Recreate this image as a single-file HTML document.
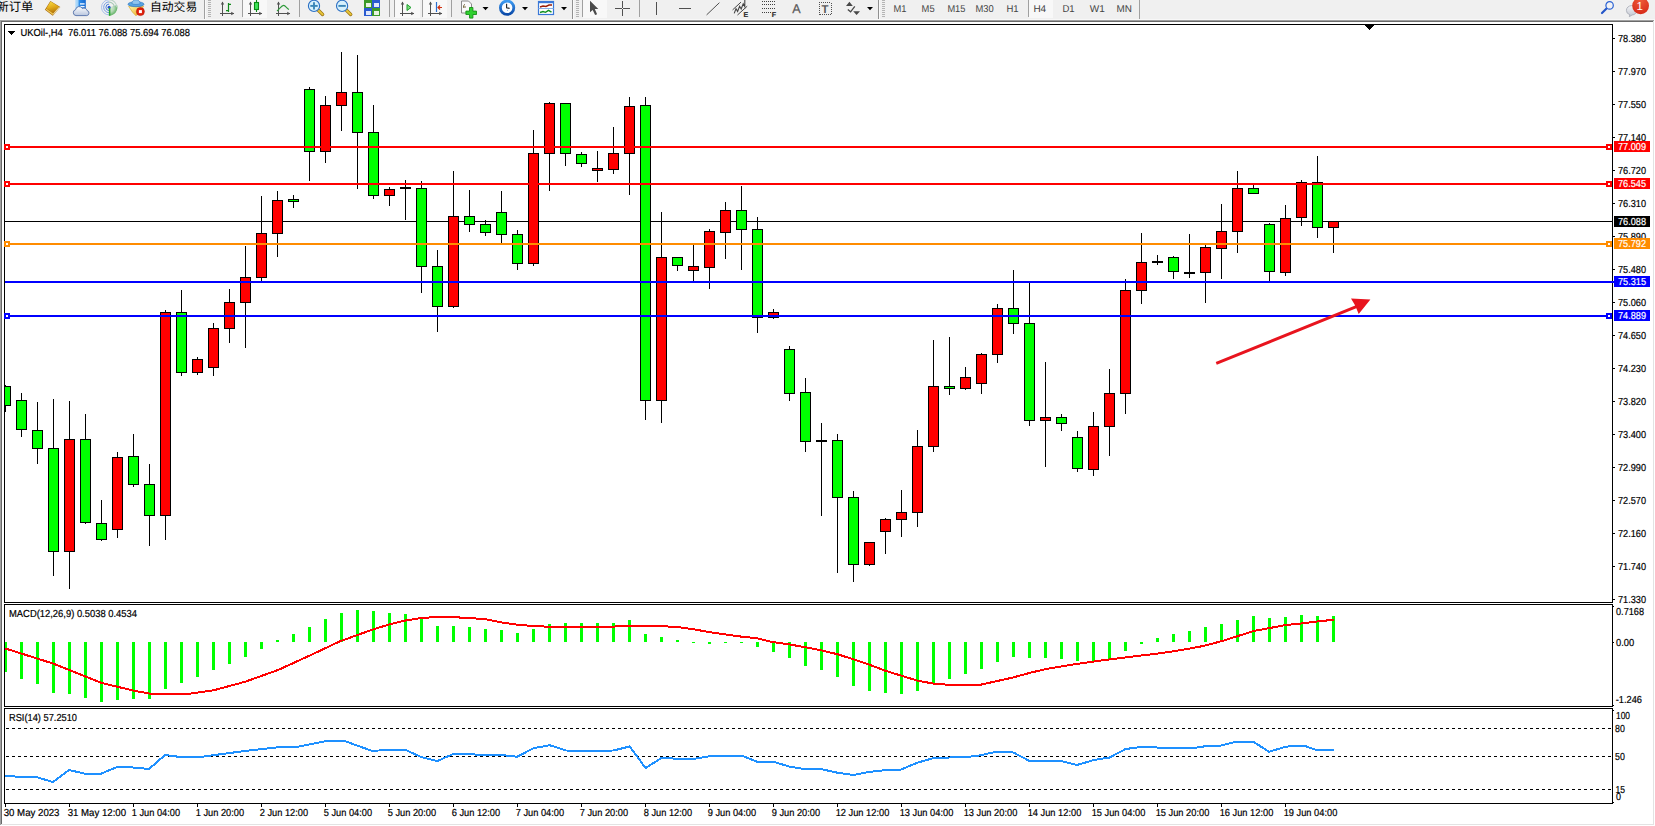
<!DOCTYPE html>
<html><head><meta charset="utf-8"><title>UKOil H4</title>
<style>html,body{margin:0;padding:0;background:#f0f0f0;overflow:hidden}svg text{white-space:pre;text-rendering:geometricPrecision}</style></head>
<body>
<svg width="1655" height="826" viewBox="0 0 1655 826" font-family='"Liberation Sans", sans-serif' style="display:block">
<rect x="0" y="0" width="1655" height="826" fill="#f0f0f0"/>
<g shape-rendering="crispEdges">
<rect x="0" y="19" width="1655" height="1" fill="#f8f8f8"/>
<rect x="0" y="20" width="1654" height="806" fill="#a0a0a0"/>
<rect x="1" y="21" width="1653" height="805" fill="#696969"/>
<rect x="2" y="22" width="1653" height="804" fill="#ffffff"/>
<rect x="1653" y="21" width="1" height="804" fill="#e3e3e3"/>
<rect x="1654" y="20" width="1" height="806" fill="#ffffff"/>
<rect x="1" y="824" width="1653" height="1" fill="#e3e3e3"/>
<rect x="0" y="825" width="1655" height="1" fill="#ffffff"/>
<rect x="0" y="20" width="1" height="805" fill="#a0a0a0"/>
<rect x="1" y="21" width="1" height="803" fill="#696969"/>
<rect x="4" y="24" width="1609" height="1" fill="#000"/>
<rect x="4" y="24" width="1" height="579" fill="#000"/>
<rect x="4" y="604" width="1" height="103" fill="#000"/>
<rect x="4" y="708" width="1" height="96" fill="#000"/>
<rect x="1612" y="24" width="1" height="579" fill="#000"/>
<rect x="1612" y="604" width="1" height="103" fill="#000"/>
<rect x="1612" y="708" width="1" height="96" fill="#000"/>
<rect x="4" y="602" width="1609" height="1" fill="#000"/>
<rect x="4" y="604" width="1609" height="1" fill="#000"/>
<rect x="4" y="706" width="1609" height="1" fill="#000"/>
<rect x="4" y="708" width="1609" height="1" fill="#000"/>
<rect x="4" y="803" width="1609" height="1" fill="#000"/>
</g>
<g shape-rendering="crispEdges">
<rect x="5" y="221" width="1607" height="1" fill="#000"/>
</g>
<g shape-rendering="crispEdges">
<rect x="5" y="385" width="1" height="27" fill="#000"/>
<rect x="5" y="386" width="6" height="20" fill="#000"/>
<rect x="5" y="387" width="5" height="18" fill="#00ff00"/>
<rect x="21" y="393" width="1" height="44" fill="#000"/>
<rect x="16" y="400" width="11" height="30" fill="#000"/>
<rect x="17" y="401" width="9" height="28" fill="#00ff00"/>
<rect x="37" y="402" width="1" height="62" fill="#000"/>
<rect x="32" y="430" width="11" height="19" fill="#000"/>
<rect x="33" y="431" width="9" height="17" fill="#00ff00"/>
<rect x="53" y="399" width="1" height="177" fill="#000"/>
<rect x="48" y="448" width="11" height="104" fill="#000"/>
<rect x="49" y="449" width="9" height="102" fill="#00ff00"/>
<rect x="69" y="401" width="1" height="188" fill="#000"/>
<rect x="64" y="439" width="11" height="113" fill="#000"/>
<rect x="65" y="440" width="9" height="111" fill="#ff0000"/>
<rect x="85" y="414" width="1" height="110" fill="#000"/>
<rect x="80" y="439" width="11" height="84" fill="#000"/>
<rect x="81" y="440" width="9" height="82" fill="#00ff00"/>
<rect x="101" y="500" width="1" height="41" fill="#000"/>
<rect x="96" y="523" width="11" height="17" fill="#000"/>
<rect x="97" y="524" width="9" height="15" fill="#00ff00"/>
<rect x="117" y="452" width="1" height="86" fill="#000"/>
<rect x="112" y="457" width="11" height="73" fill="#000"/>
<rect x="113" y="458" width="9" height="71" fill="#ff0000"/>
<rect x="133" y="434" width="1" height="53" fill="#000"/>
<rect x="128" y="456" width="11" height="29" fill="#000"/>
<rect x="129" y="457" width="9" height="27" fill="#00ff00"/>
<rect x="149" y="464" width="1" height="82" fill="#000"/>
<rect x="144" y="484" width="11" height="32" fill="#000"/>
<rect x="145" y="485" width="9" height="30" fill="#00ff00"/>
<rect x="165" y="310" width="1" height="230" fill="#000"/>
<rect x="160" y="312" width="11" height="204" fill="#000"/>
<rect x="161" y="313" width="9" height="202" fill="#ff0000"/>
<rect x="181" y="290" width="1" height="86" fill="#000"/>
<rect x="176" y="312" width="11" height="61" fill="#000"/>
<rect x="177" y="313" width="9" height="59" fill="#00ff00"/>
<rect x="197" y="357" width="1" height="18" fill="#000"/>
<rect x="192" y="359" width="11" height="14" fill="#000"/>
<rect x="193" y="360" width="9" height="12" fill="#ff0000"/>
<rect x="213" y="323" width="1" height="53" fill="#000"/>
<rect x="208" y="328" width="11" height="40" fill="#000"/>
<rect x="209" y="329" width="9" height="38" fill="#ff0000"/>
<rect x="229" y="289" width="1" height="54" fill="#000"/>
<rect x="224" y="302" width="11" height="27" fill="#000"/>
<rect x="225" y="303" width="9" height="25" fill="#ff0000"/>
<rect x="245" y="246" width="1" height="102" fill="#000"/>
<rect x="240" y="277" width="11" height="26" fill="#000"/>
<rect x="241" y="278" width="9" height="24" fill="#ff0000"/>
<rect x="261" y="196" width="1" height="86" fill="#000"/>
<rect x="256" y="233" width="11" height="45" fill="#000"/>
<rect x="257" y="234" width="9" height="43" fill="#ff0000"/>
<rect x="277" y="191" width="1" height="66" fill="#000"/>
<rect x="272" y="200" width="11" height="34" fill="#000"/>
<rect x="273" y="201" width="9" height="32" fill="#ff0000"/>
<rect x="293" y="195" width="1" height="13" fill="#000"/>
<rect x="288" y="199" width="11" height="3" fill="#000"/>
<rect x="289" y="200" width="9" height="1" fill="#00ff00"/>
<rect x="309" y="87" width="1" height="94" fill="#000"/>
<rect x="304" y="89" width="11" height="63" fill="#000"/>
<rect x="305" y="90" width="9" height="61" fill="#00ff00"/>
<rect x="325" y="96" width="1" height="67" fill="#000"/>
<rect x="320" y="105" width="11" height="47" fill="#000"/>
<rect x="321" y="106" width="9" height="45" fill="#ff0000"/>
<rect x="341" y="52" width="1" height="79" fill="#000"/>
<rect x="336" y="92" width="11" height="14" fill="#000"/>
<rect x="337" y="93" width="9" height="12" fill="#ff0000"/>
<rect x="357" y="55" width="1" height="134" fill="#000"/>
<rect x="352" y="92" width="11" height="41" fill="#000"/>
<rect x="353" y="93" width="9" height="39" fill="#00ff00"/>
<rect x="373" y="105" width="1" height="94" fill="#000"/>
<rect x="368" y="132" width="11" height="64" fill="#000"/>
<rect x="369" y="133" width="9" height="62" fill="#00ff00"/>
<rect x="389" y="187" width="1" height="19" fill="#000"/>
<rect x="384" y="189" width="11" height="7" fill="#000"/>
<rect x="385" y="190" width="9" height="5" fill="#ff0000"/>
<rect x="405" y="180" width="1" height="40" fill="#000"/>
<rect x="400" y="187" width="11" height="2" fill="#000"/>
<rect x="421" y="181" width="1" height="112" fill="#000"/>
<rect x="416" y="188" width="11" height="79" fill="#000"/>
<rect x="417" y="189" width="9" height="77" fill="#00ff00"/>
<rect x="437" y="250" width="1" height="82" fill="#000"/>
<rect x="432" y="266" width="11" height="41" fill="#000"/>
<rect x="433" y="267" width="9" height="39" fill="#00ff00"/>
<rect x="453" y="171" width="1" height="137" fill="#000"/>
<rect x="448" y="216" width="11" height="91" fill="#000"/>
<rect x="449" y="217" width="9" height="89" fill="#ff0000"/>
<rect x="469" y="190" width="1" height="42" fill="#000"/>
<rect x="464" y="216" width="11" height="9" fill="#000"/>
<rect x="465" y="217" width="9" height="7" fill="#00ff00"/>
<rect x="485" y="220" width="1" height="16" fill="#000"/>
<rect x="480" y="224" width="11" height="9" fill="#000"/>
<rect x="481" y="225" width="9" height="7" fill="#00ff00"/>
<rect x="501" y="191" width="1" height="52" fill="#000"/>
<rect x="496" y="212" width="11" height="23" fill="#000"/>
<rect x="497" y="213" width="9" height="21" fill="#00ff00"/>
<rect x="517" y="230" width="1" height="40" fill="#000"/>
<rect x="512" y="234" width="11" height="30" fill="#000"/>
<rect x="513" y="235" width="9" height="28" fill="#00ff00"/>
<rect x="533" y="130" width="1" height="136" fill="#000"/>
<rect x="528" y="153" width="11" height="111" fill="#000"/>
<rect x="529" y="154" width="9" height="109" fill="#ff0000"/>
<rect x="549" y="102" width="1" height="89" fill="#000"/>
<rect x="544" y="103" width="11" height="51" fill="#000"/>
<rect x="545" y="104" width="9" height="49" fill="#ff0000"/>
<rect x="565" y="103" width="1" height="63" fill="#000"/>
<rect x="560" y="103" width="11" height="51" fill="#000"/>
<rect x="561" y="104" width="9" height="49" fill="#00ff00"/>
<rect x="581" y="152" width="1" height="15" fill="#000"/>
<rect x="576" y="154" width="11" height="10" fill="#000"/>
<rect x="577" y="155" width="9" height="8" fill="#00ff00"/>
<rect x="597" y="151" width="1" height="31" fill="#000"/>
<rect x="592" y="168" width="11" height="3" fill="#000"/>
<rect x="593" y="169" width="9" height="1" fill="#ff0000"/>
<rect x="613" y="127" width="1" height="47" fill="#000"/>
<rect x="608" y="153" width="11" height="17" fill="#000"/>
<rect x="609" y="154" width="9" height="15" fill="#ff0000"/>
<rect x="629" y="97" width="1" height="98" fill="#000"/>
<rect x="624" y="106" width="11" height="48" fill="#000"/>
<rect x="625" y="107" width="9" height="46" fill="#ff0000"/>
<rect x="645" y="97" width="1" height="323" fill="#000"/>
<rect x="640" y="105" width="11" height="296" fill="#000"/>
<rect x="641" y="106" width="9" height="294" fill="#00ff00"/>
<rect x="661" y="212" width="1" height="211" fill="#000"/>
<rect x="656" y="257" width="11" height="144" fill="#000"/>
<rect x="657" y="258" width="9" height="142" fill="#ff0000"/>
<rect x="677" y="257" width="1" height="14" fill="#000"/>
<rect x="672" y="257" width="11" height="9" fill="#000"/>
<rect x="673" y="258" width="9" height="7" fill="#00ff00"/>
<rect x="693" y="245" width="1" height="36" fill="#000"/>
<rect x="688" y="266" width="11" height="5" fill="#000"/>
<rect x="689" y="267" width="9" height="3" fill="#ff0000"/>
<rect x="709" y="229" width="1" height="60" fill="#000"/>
<rect x="704" y="231" width="11" height="37" fill="#000"/>
<rect x="705" y="232" width="9" height="35" fill="#ff0000"/>
<rect x="725" y="202" width="1" height="57" fill="#000"/>
<rect x="720" y="210" width="11" height="23" fill="#000"/>
<rect x="721" y="211" width="9" height="21" fill="#ff0000"/>
<rect x="741" y="186" width="1" height="84" fill="#000"/>
<rect x="736" y="210" width="11" height="20" fill="#000"/>
<rect x="737" y="211" width="9" height="18" fill="#00ff00"/>
<rect x="757" y="217" width="1" height="116" fill="#000"/>
<rect x="752" y="229" width="11" height="89" fill="#000"/>
<rect x="753" y="230" width="9" height="87" fill="#00ff00"/>
<rect x="773" y="309" width="1" height="10" fill="#000"/>
<rect x="768" y="312" width="11" height="6" fill="#000"/>
<rect x="769" y="313" width="9" height="4" fill="#ff0000"/>
<rect x="789" y="346" width="1" height="55" fill="#000"/>
<rect x="784" y="349" width="11" height="45" fill="#000"/>
<rect x="785" y="350" width="9" height="43" fill="#00ff00"/>
<rect x="805" y="378" width="1" height="74" fill="#000"/>
<rect x="800" y="392" width="11" height="50" fill="#000"/>
<rect x="801" y="393" width="9" height="48" fill="#00ff00"/>
<rect x="821" y="423" width="1" height="93" fill="#000"/>
<rect x="816" y="440" width="11" height="2" fill="#000"/>
<rect x="837" y="434" width="1" height="139" fill="#000"/>
<rect x="832" y="440" width="11" height="58" fill="#000"/>
<rect x="833" y="441" width="9" height="56" fill="#00ff00"/>
<rect x="853" y="491" width="1" height="91" fill="#000"/>
<rect x="848" y="497" width="11" height="68" fill="#000"/>
<rect x="849" y="498" width="9" height="66" fill="#00ff00"/>
<rect x="869" y="542" width="1" height="24" fill="#000"/>
<rect x="864" y="542" width="11" height="23" fill="#000"/>
<rect x="865" y="543" width="9" height="21" fill="#ff0000"/>
<rect x="885" y="518" width="1" height="36" fill="#000"/>
<rect x="880" y="519" width="11" height="13" fill="#000"/>
<rect x="881" y="520" width="9" height="11" fill="#ff0000"/>
<rect x="901" y="490" width="1" height="47" fill="#000"/>
<rect x="896" y="512" width="11" height="8" fill="#000"/>
<rect x="897" y="513" width="9" height="6" fill="#ff0000"/>
<rect x="917" y="430" width="1" height="97" fill="#000"/>
<rect x="912" y="446" width="11" height="67" fill="#000"/>
<rect x="913" y="447" width="9" height="65" fill="#ff0000"/>
<rect x="933" y="340" width="1" height="112" fill="#000"/>
<rect x="928" y="386" width="11" height="61" fill="#000"/>
<rect x="929" y="387" width="9" height="59" fill="#ff0000"/>
<rect x="949" y="337" width="1" height="58" fill="#000"/>
<rect x="944" y="386" width="11" height="3" fill="#000"/>
<rect x="945" y="387" width="9" height="1" fill="#00ff00"/>
<rect x="965" y="367" width="1" height="23" fill="#000"/>
<rect x="960" y="377" width="11" height="12" fill="#000"/>
<rect x="961" y="378" width="9" height="10" fill="#ff0000"/>
<rect x="981" y="353" width="1" height="41" fill="#000"/>
<rect x="976" y="354" width="11" height="30" fill="#000"/>
<rect x="977" y="355" width="9" height="28" fill="#ff0000"/>
<rect x="997" y="304" width="1" height="59" fill="#000"/>
<rect x="992" y="308" width="11" height="47" fill="#000"/>
<rect x="993" y="309" width="9" height="45" fill="#ff0000"/>
<rect x="1013" y="270" width="1" height="64" fill="#000"/>
<rect x="1008" y="308" width="11" height="16" fill="#000"/>
<rect x="1009" y="309" width="9" height="14" fill="#00ff00"/>
<rect x="1029" y="283" width="1" height="143" fill="#000"/>
<rect x="1024" y="323" width="11" height="98" fill="#000"/>
<rect x="1025" y="324" width="9" height="96" fill="#00ff00"/>
<rect x="1045" y="362" width="1" height="105" fill="#000"/>
<rect x="1040" y="417" width="11" height="4" fill="#000"/>
<rect x="1041" y="418" width="9" height="2" fill="#ff0000"/>
<rect x="1061" y="414" width="1" height="17" fill="#000"/>
<rect x="1056" y="417" width="11" height="7" fill="#000"/>
<rect x="1057" y="418" width="9" height="5" fill="#00ff00"/>
<rect x="1077" y="431" width="1" height="41" fill="#000"/>
<rect x="1072" y="437" width="11" height="32" fill="#000"/>
<rect x="1073" y="438" width="9" height="30" fill="#00ff00"/>
<rect x="1093" y="412" width="1" height="64" fill="#000"/>
<rect x="1088" y="426" width="11" height="44" fill="#000"/>
<rect x="1089" y="427" width="9" height="42" fill="#ff0000"/>
<rect x="1109" y="369" width="1" height="87" fill="#000"/>
<rect x="1104" y="393" width="11" height="34" fill="#000"/>
<rect x="1105" y="394" width="9" height="32" fill="#ff0000"/>
<rect x="1125" y="279" width="1" height="135" fill="#000"/>
<rect x="1120" y="290" width="11" height="104" fill="#000"/>
<rect x="1121" y="291" width="9" height="102" fill="#ff0000"/>
<rect x="1141" y="233" width="1" height="71" fill="#000"/>
<rect x="1136" y="262" width="11" height="29" fill="#000"/>
<rect x="1137" y="263" width="9" height="27" fill="#ff0000"/>
<rect x="1157" y="255" width="1" height="10" fill="#000"/>
<rect x="1152" y="261" width="11" height="2" fill="#000"/>
<rect x="1173" y="256" width="1" height="23" fill="#000"/>
<rect x="1168" y="257" width="11" height="15" fill="#000"/>
<rect x="1169" y="258" width="9" height="13" fill="#00ff00"/>
<rect x="1189" y="234" width="1" height="44" fill="#000"/>
<rect x="1184" y="272" width="11" height="2" fill="#000"/>
<rect x="1205" y="245" width="1" height="58" fill="#000"/>
<rect x="1200" y="247" width="11" height="26" fill="#000"/>
<rect x="1201" y="248" width="9" height="24" fill="#ff0000"/>
<rect x="1221" y="204" width="1" height="75" fill="#000"/>
<rect x="1216" y="231" width="11" height="18" fill="#000"/>
<rect x="1217" y="232" width="9" height="16" fill="#ff0000"/>
<rect x="1237" y="171" width="1" height="82" fill="#000"/>
<rect x="1232" y="188" width="11" height="44" fill="#000"/>
<rect x="1233" y="189" width="9" height="42" fill="#ff0000"/>
<rect x="1253" y="185" width="1" height="9" fill="#000"/>
<rect x="1248" y="188" width="11" height="6" fill="#000"/>
<rect x="1249" y="189" width="9" height="4" fill="#00ff00"/>
<rect x="1269" y="223" width="1" height="59" fill="#000"/>
<rect x="1264" y="224" width="11" height="48" fill="#000"/>
<rect x="1265" y="225" width="9" height="46" fill="#00ff00"/>
<rect x="1285" y="205" width="1" height="71" fill="#000"/>
<rect x="1280" y="218" width="11" height="55" fill="#000"/>
<rect x="1281" y="219" width="9" height="53" fill="#ff0000"/>
<rect x="1301" y="180" width="1" height="46" fill="#000"/>
<rect x="1296" y="182" width="11" height="36" fill="#000"/>
<rect x="1297" y="183" width="9" height="34" fill="#ff0000"/>
<rect x="1317" y="156" width="1" height="82" fill="#000"/>
<rect x="1312" y="182" width="11" height="46" fill="#000"/>
<rect x="1313" y="183" width="9" height="44" fill="#00ff00"/>
<rect x="1333" y="221" width="1" height="32" fill="#000"/>
<rect x="1328" y="221" width="11" height="7" fill="#000"/>
<rect x="1329" y="222" width="9" height="5" fill="#ff0000"/>
<rect x="5" y="146" width="1607" height="2" fill="#ff0000"/>
<rect x="4" y="144" width="6" height="6" fill="#ff0000"/>
<rect x="6" y="146" width="2" height="2" fill="#fff"/>
<rect x="1606" y="144" width="6" height="6" fill="#ff0000"/>
<rect x="1608" y="146" width="2" height="2" fill="#fff"/>
<rect x="5" y="183" width="1607" height="2" fill="#ff0000"/>
<rect x="4" y="181" width="6" height="6" fill="#ff0000"/>
<rect x="6" y="183" width="2" height="2" fill="#fff"/>
<rect x="1606" y="181" width="6" height="6" fill="#ff0000"/>
<rect x="1608" y="183" width="2" height="2" fill="#fff"/>
<rect x="5" y="243" width="1607" height="2" fill="#ff8c00"/>
<rect x="4" y="241" width="6" height="6" fill="#ff8c00"/>
<rect x="6" y="243" width="2" height="2" fill="#fff"/>
<rect x="1606" y="241" width="6" height="6" fill="#ff8c00"/>
<rect x="1608" y="243" width="2" height="2" fill="#fff"/>
<rect x="5" y="281" width="1609" height="2" fill="#0000ff"/>
<rect x="5" y="315" width="1607" height="2" fill="#0000ff"/>
<rect x="4" y="313" width="6" height="6" fill="#0000ff"/>
<rect x="6" y="315" width="2" height="2" fill="#fff"/>
<rect x="1606" y="313" width="6" height="6" fill="#0000ff"/>
<rect x="1608" y="315" width="2" height="2" fill="#fff"/>
</g>
<g fill="#e8141e" stroke="none">
<path d="M1215.7 362.0 L1355.2 305.4 L1351.0 298.6 L1370.4 299.4 L1358.7 314.0 L1356.3 308.2 L1216.8 364.8 Z"/>
</g>
<g shape-rendering="crispEdges">
<rect x="1613" y="38" width="2" height="1" fill="#000"/>
<rect x="1613" y="71" width="2" height="1" fill="#000"/>
<rect x="1613" y="104" width="2" height="1" fill="#000"/>
<rect x="1613" y="137" width="2" height="1" fill="#000"/>
<rect x="1613" y="170" width="2" height="1" fill="#000"/>
<rect x="1613" y="203" width="2" height="1" fill="#000"/>
<rect x="1613" y="236" width="2" height="1" fill="#000"/>
<rect x="1613" y="269" width="2" height="1" fill="#000"/>
<rect x="1613" y="302" width="2" height="1" fill="#000"/>
<rect x="1613" y="335" width="2" height="1" fill="#000"/>
<rect x="1613" y="368" width="2" height="1" fill="#000"/>
<rect x="1613" y="401" width="2" height="1" fill="#000"/>
<rect x="1613" y="434" width="2" height="1" fill="#000"/>
<rect x="1613" y="467" width="2" height="1" fill="#000"/>
<rect x="1613" y="500" width="2" height="1" fill="#000"/>
<rect x="1613" y="533" width="2" height="1" fill="#000"/>
<rect x="1613" y="566" width="2" height="1" fill="#000"/>
<rect x="1613" y="599" width="2" height="1" fill="#000"/>
</g>
<text x="1618" y="42" font-size="10.17" fill="#000" stroke="#000" stroke-width="0.2" textLength="28" lengthAdjust="spacingAndGlyphs">78.380</text>
<text x="1618" y="75" font-size="10.17" fill="#000" stroke="#000" stroke-width="0.2" textLength="28" lengthAdjust="spacingAndGlyphs">77.970</text>
<text x="1618" y="108" font-size="10.17" fill="#000" stroke="#000" stroke-width="0.2" textLength="28" lengthAdjust="spacingAndGlyphs">77.550</text>
<text x="1618" y="141" font-size="10.17" fill="#000" stroke="#000" stroke-width="0.2" textLength="28" lengthAdjust="spacingAndGlyphs">77.140</text>
<text x="1618" y="174" font-size="10.17" fill="#000" stroke="#000" stroke-width="0.2" textLength="28" lengthAdjust="spacingAndGlyphs">76.720</text>
<text x="1618" y="207" font-size="10.17" fill="#000" stroke="#000" stroke-width="0.2" textLength="28" lengthAdjust="spacingAndGlyphs">76.310</text>
<text x="1618" y="240" font-size="10.17" fill="#000" stroke="#000" stroke-width="0.2" textLength="28" lengthAdjust="spacingAndGlyphs">75.890</text>
<text x="1618" y="273" font-size="10.17" fill="#000" stroke="#000" stroke-width="0.2" textLength="28" lengthAdjust="spacingAndGlyphs">75.480</text>
<text x="1618" y="306" font-size="10.17" fill="#000" stroke="#000" stroke-width="0.2" textLength="28" lengthAdjust="spacingAndGlyphs">75.060</text>
<text x="1618" y="339" font-size="10.17" fill="#000" stroke="#000" stroke-width="0.2" textLength="28" lengthAdjust="spacingAndGlyphs">74.650</text>
<text x="1618" y="372" font-size="10.17" fill="#000" stroke="#000" stroke-width="0.2" textLength="28" lengthAdjust="spacingAndGlyphs">74.230</text>
<text x="1618" y="405" font-size="10.17" fill="#000" stroke="#000" stroke-width="0.2" textLength="28" lengthAdjust="spacingAndGlyphs">73.820</text>
<text x="1618" y="438" font-size="10.17" fill="#000" stroke="#000" stroke-width="0.2" textLength="28" lengthAdjust="spacingAndGlyphs">73.400</text>
<text x="1618" y="471" font-size="10.17" fill="#000" stroke="#000" stroke-width="0.2" textLength="28" lengthAdjust="spacingAndGlyphs">72.990</text>
<text x="1618" y="504" font-size="10.17" fill="#000" stroke="#000" stroke-width="0.2" textLength="28" lengthAdjust="spacingAndGlyphs">72.570</text>
<text x="1618" y="537" font-size="10.17" fill="#000" stroke="#000" stroke-width="0.2" textLength="28" lengthAdjust="spacingAndGlyphs">72.160</text>
<text x="1618" y="570" font-size="10.17" fill="#000" stroke="#000" stroke-width="0.2" textLength="28" lengthAdjust="spacingAndGlyphs">71.740</text>
<text x="1618" y="603" font-size="10.17" fill="#000" stroke="#000" stroke-width="0.2" textLength="28" lengthAdjust="spacingAndGlyphs">71.330</text>
<g shape-rendering="crispEdges">
<rect x="1614" y="141" width="36" height="11" fill="#ff0000"/>
<rect x="1614" y="178" width="36" height="11" fill="#ff0000"/>
<rect x="1614" y="238" width="36" height="11" fill="#ff8c00"/>
<rect x="1614" y="276" width="36" height="11" fill="#0000ff"/>
<rect x="1614" y="310" width="36" height="11" fill="#0000ff"/>
<rect x="1614" y="216" width="36" height="11" fill="#000"/>
</g>
<text x="1618" y="150" font-size="10.17" fill="#fff" stroke="#fff" stroke-width="0.2" textLength="28" lengthAdjust="spacingAndGlyphs">77.009</text>
<text x="1618" y="187" font-size="10.17" fill="#fff" stroke="#fff" stroke-width="0.2" textLength="28" lengthAdjust="spacingAndGlyphs">76.545</text>
<text x="1618" y="247" font-size="10.17" fill="#fff" stroke="#fff" stroke-width="0.2" textLength="28" lengthAdjust="spacingAndGlyphs">75.792</text>
<text x="1618" y="285" font-size="10.17" fill="#fff" stroke="#fff" stroke-width="0.2" textLength="28" lengthAdjust="spacingAndGlyphs">75.315</text>
<text x="1618" y="319" font-size="10.17" fill="#fff" stroke="#fff" stroke-width="0.2" textLength="28" lengthAdjust="spacingAndGlyphs">74.889</text>
<text x="1618" y="225" font-size="10.17" fill="#fff" stroke="#fff" stroke-width="0.2" textLength="28" lengthAdjust="spacingAndGlyphs">76.088</text>
<g shape-rendering="crispEdges">
<rect x="8" y="31" width="7" height="1" fill="#000"/>
<rect x="9" y="32" width="5" height="1" fill="#000"/>
<rect x="10" y="33" width="3" height="1" fill="#000"/>
<rect x="11" y="34" width="1" height="1" fill="#000"/>
<rect x="1365" y="25" width="9" height="1" fill="#000"/>
<rect x="1366" y="26" width="7" height="1" fill="#000"/>
<rect x="1367" y="27" width="5" height="1" fill="#000"/>
<rect x="1368" y="28" width="3" height="1" fill="#000"/>
<rect x="1369" y="29" width="1" height="1" fill="#000"/>
</g>
<text x="20.5" y="36" font-size="10.17" fill="#000" stroke="#000" stroke-width="0.2" textLength="169.5" lengthAdjust="spacingAndGlyphs" xml:space="preserve">UKOil-,H4&#160;&#160;76.011 76.088 75.694 76.088</text>
<g shape-rendering="crispEdges">
<rect x="5" y="642" width="2" height="30" fill="#00ff00"/>
<rect x="20" y="642" width="3" height="37" fill="#00ff00"/>
<rect x="36" y="642" width="3" height="42" fill="#00ff00"/>
<rect x="52" y="642" width="3" height="51" fill="#00ff00"/>
<rect x="68" y="642" width="3" height="52" fill="#00ff00"/>
<rect x="84" y="642" width="3" height="56" fill="#00ff00"/>
<rect x="100" y="642" width="3" height="60" fill="#00ff00"/>
<rect x="116" y="642" width="3" height="58" fill="#00ff00"/>
<rect x="132" y="642" width="3" height="57" fill="#00ff00"/>
<rect x="148" y="642" width="3" height="57" fill="#00ff00"/>
<rect x="164" y="642" width="3" height="47" fill="#00ff00"/>
<rect x="180" y="642" width="3" height="41" fill="#00ff00"/>
<rect x="196" y="642" width="3" height="35" fill="#00ff00"/>
<rect x="212" y="642" width="3" height="28" fill="#00ff00"/>
<rect x="228" y="642" width="3" height="22" fill="#00ff00"/>
<rect x="244" y="642" width="3" height="15" fill="#00ff00"/>
<rect x="260" y="642" width="3" height="7" fill="#00ff00"/>
<rect x="276" y="640" width="3" height="2" fill="#00ff00"/>
<rect x="292" y="634" width="3" height="8" fill="#00ff00"/>
<rect x="308" y="627" width="3" height="15" fill="#00ff00"/>
<rect x="324" y="619" width="3" height="23" fill="#00ff00"/>
<rect x="340" y="613" width="3" height="29" fill="#00ff00"/>
<rect x="356" y="610" width="3" height="32" fill="#00ff00"/>
<rect x="372" y="611" width="3" height="31" fill="#00ff00"/>
<rect x="388" y="613" width="3" height="29" fill="#00ff00"/>
<rect x="404" y="614" width="3" height="28" fill="#00ff00"/>
<rect x="420" y="619" width="3" height="23" fill="#00ff00"/>
<rect x="436" y="626" width="3" height="16" fill="#00ff00"/>
<rect x="452" y="626" width="3" height="16" fill="#00ff00"/>
<rect x="468" y="627" width="3" height="15" fill="#00ff00"/>
<rect x="484" y="629" width="3" height="13" fill="#00ff00"/>
<rect x="500" y="630" width="3" height="12" fill="#00ff00"/>
<rect x="516" y="633" width="3" height="9" fill="#00ff00"/>
<rect x="532" y="629" width="3" height="13" fill="#00ff00"/>
<rect x="548" y="624" width="3" height="18" fill="#00ff00"/>
<rect x="564" y="623" width="3" height="19" fill="#00ff00"/>
<rect x="580" y="623" width="3" height="19" fill="#00ff00"/>
<rect x="596" y="623" width="3" height="19" fill="#00ff00"/>
<rect x="612" y="623" width="3" height="19" fill="#00ff00"/>
<rect x="628" y="620" width="3" height="22" fill="#00ff00"/>
<rect x="644" y="634" width="3" height="8" fill="#00ff00"/>
<rect x="660" y="637" width="3" height="5" fill="#00ff00"/>
<rect x="676" y="640" width="3" height="2" fill="#00ff00"/>
<rect x="692" y="642" width="3" height="1" fill="#00ff00"/>
<rect x="708" y="642" width="3" height="2" fill="#00ff00"/>
<rect x="724" y="642" width="3" height="1" fill="#00ff00"/>
<rect x="740" y="642" width="3" height="1" fill="#00ff00"/>
<rect x="756" y="642" width="3" height="5" fill="#00ff00"/>
<rect x="772" y="642" width="3" height="10" fill="#00ff00"/>
<rect x="788" y="642" width="3" height="16" fill="#00ff00"/>
<rect x="804" y="642" width="3" height="24" fill="#00ff00"/>
<rect x="820" y="642" width="3" height="28" fill="#00ff00"/>
<rect x="836" y="642" width="3" height="35" fill="#00ff00"/>
<rect x="852" y="642" width="3" height="44" fill="#00ff00"/>
<rect x="868" y="642" width="3" height="49" fill="#00ff00"/>
<rect x="884" y="642" width="3" height="51" fill="#00ff00"/>
<rect x="900" y="642" width="3" height="52" fill="#00ff00"/>
<rect x="916" y="642" width="3" height="49" fill="#00ff00"/>
<rect x="932" y="642" width="3" height="42" fill="#00ff00"/>
<rect x="948" y="642" width="3" height="37" fill="#00ff00"/>
<rect x="964" y="642" width="3" height="32" fill="#00ff00"/>
<rect x="980" y="642" width="3" height="27" fill="#00ff00"/>
<rect x="996" y="642" width="3" height="20" fill="#00ff00"/>
<rect x="1012" y="642" width="3" height="15" fill="#00ff00"/>
<rect x="1028" y="642" width="3" height="16" fill="#00ff00"/>
<rect x="1044" y="642" width="3" height="16" fill="#00ff00"/>
<rect x="1060" y="642" width="3" height="17" fill="#00ff00"/>
<rect x="1076" y="642" width="3" height="19" fill="#00ff00"/>
<rect x="1092" y="642" width="3" height="19" fill="#00ff00"/>
<rect x="1108" y="642" width="3" height="17" fill="#00ff00"/>
<rect x="1124" y="642" width="3" height="9" fill="#00ff00"/>
<rect x="1140" y="642" width="3" height="2" fill="#00ff00"/>
<rect x="1156" y="638" width="3" height="4" fill="#00ff00"/>
<rect x="1172" y="634" width="3" height="8" fill="#00ff00"/>
<rect x="1188" y="631" width="3" height="11" fill="#00ff00"/>
<rect x="1204" y="627" width="3" height="15" fill="#00ff00"/>
<rect x="1220" y="624" width="3" height="18" fill="#00ff00"/>
<rect x="1236" y="620" width="3" height="22" fill="#00ff00"/>
<rect x="1252" y="616" width="3" height="26" fill="#00ff00"/>
<rect x="1268" y="618" width="3" height="24" fill="#00ff00"/>
<rect x="1284" y="617" width="3" height="25" fill="#00ff00"/>
<rect x="1300" y="615" width="3" height="27" fill="#00ff00"/>
<rect x="1316" y="616" width="3" height="26" fill="#00ff00"/>
<rect x="1332" y="616" width="3" height="26" fill="#00ff00"/>
</g>
<polyline points="5,648.4 53.5,663.7 101.6,682.9 133.7,690.7 150.4,693.7 189.4,693.7 214.4,690.1 245,681.8 278.5,669.8 309,655.9 339.7,641.4 373,629.4 389,624.6 405,620.6 421,618 437,617 453,617.1 469,618.1 485,619 501,622.4 517,624.6 534.8,626.2 549.7,626.7 612,626.7 629.6,625.7 659.5,626 677,627 694.5,629.4 709.5,632.2 727,634.7 742,636.7 757,638.2 771.9,641.9 789.3,644.4 805,647.2 821.5,650.4 837.4,654.2 853.7,659.4 869.9,664.9 884.9,670.6 901,675.6 917.3,680.6 933.5,683.6 949.7,684.9 979.7,684.9 997,681.1 1013.4,677.4 1029.6,672.9 1045.8,669.1 1062,666.4 1077,663.9 1093.2,661.6 1109.5,659.4 1125.7,657.4 1141.9,655.4 1156.9,653.7 1174.3,651.2 1189.3,648.7 1205,645.6 1221.5,641.2 1237.4,636.2 1253.7,631 1269.9,628 1284.9,625.2 1301,623.5 1317.3,621.5 1334,619.7" fill="none" stroke="#ff0000" stroke-width="2" stroke-linejoin="round" shape-rendering="crispEdges"/>
<text x="9" y="617.3" font-size="10.17" fill="#000" stroke="#000" stroke-width="0.2" textLength="128" lengthAdjust="spacingAndGlyphs">MACD(12,26,9) 0.5038 0.4534</text>
<g shape-rendering="crispEdges">
<rect x="1613" y="606" width="1" height="1" fill="#000"/>
<rect x="1613" y="642" width="1" height="1" fill="#000"/>
<rect x="1613" y="705" width="1" height="1" fill="#000"/>
<rect x="1613" y="710" width="1" height="1" fill="#000"/>
</g>
<text x="1616" y="615" font-size="10.17" fill="#000" stroke="#000" stroke-width="0.2" textLength="28" lengthAdjust="spacingAndGlyphs">0.7168</text>
<text x="1616" y="646" font-size="10.17" fill="#000" stroke="#000" stroke-width="0.2" textLength="18.2" lengthAdjust="spacingAndGlyphs">0.00</text>
<text x="1615.8" y="703.2" font-size="10.17" fill="#000" stroke="#000" stroke-width="0.2" textLength="26.2" lengthAdjust="spacingAndGlyphs">-1.246</text>
<g stroke="#000" stroke-width="1" stroke-dasharray="3 3" shape-rendering="crispEdges">
<line x1="6" y1="728.5" x2="1612" y2="728.5"/>
<line x1="6" y1="756.5" x2="1612" y2="756.5"/>
<line x1="6" y1="789.5" x2="1612" y2="789.5"/>
</g>
<polyline points="5,776.2 21,776.7 37,777.3 53,782 69,770 85,773.7 101,773.7 117,767 133,767.5 149,769 165,755 178,756.7 203,756.7 222.8,753.9 250.6,750.3 278.5,747.2 298,746.7 325.8,741.1 344,740.8 371.8,750.8 390,750 405,749.7 421.5,757.2 437.4,761 453.2,754 469,754.2 485,755 501,755 517.3,756.7 533.5,748.2 549.7,745.2 566,750.5 582,750.7 597,750.7 613.4,750.5 629.6,746.5 645.6,768 661.5,758 677.5,758.7 694.5,758.7 709.5,756.2 725.7,755.7 742,755.7 757,761.7 774.3,762 789.3,766.5 801.8,768.7 813,769 821.5,769.2 837.4,772.7 853.2,775 869,772 885,770.2 901,769.5 917.3,762.7 934.8,757.7 949.7,757.5 966,757.2 981,755.2 997,751.5 1013.4,752.5 1029,760.7 1060.8,761 1077,765 1093.2,760.2 1109.5,757.5 1125.7,749 1143.2,746.7 1156.9,747.5 1196.8,747.5 1205.5,746.2 1221.5,745.5 1235,742 1253.2,741.7 1269,751.7 1285,747 1295,745.5 1303.6,745.5 1315.3,749.7 1334,749.7" fill="none" stroke="#1e90ff" stroke-width="2" stroke-linejoin="round" shape-rendering="crispEdges"/>
<text x="9" y="721.3" font-size="10.17" fill="#000" stroke="#000" stroke-width="0.2" textLength="68" lengthAdjust="spacingAndGlyphs">RSI(14) 57.2510</text>
<text x="1616" y="719" font-size="10.17" fill="#000" stroke="#000" stroke-width="0.2" textLength="14" lengthAdjust="spacingAndGlyphs">100</text>
<text x="1615" y="732" font-size="10.17" fill="#000" stroke="#000" stroke-width="0.2" textLength="9.8" lengthAdjust="spacingAndGlyphs">80</text>
<text x="1615" y="760" font-size="10.17" fill="#000" stroke="#000" stroke-width="0.2" textLength="9.8" lengthAdjust="spacingAndGlyphs">50</text>
<text x="1615.6" y="793" font-size="10.17" fill="#000" stroke="#000" stroke-width="0.2" textLength="9.5" lengthAdjust="spacingAndGlyphs">15</text>
<text x="1616" y="800" font-size="10.17" fill="#000" stroke="#000" stroke-width="0.2" textLength="5" lengthAdjust="spacingAndGlyphs">0</text>
<g shape-rendering="crispEdges">
<rect x="1613" y="802" width="1" height="1" fill="#000"/>
</g>
<g shape-rendering="crispEdges">
<rect x="5" y="804" width="1" height="3" fill="#000"/>
<rect x="69" y="804" width="1" height="3" fill="#000"/>
<rect x="133" y="804" width="1" height="3" fill="#000"/>
<rect x="197" y="804" width="1" height="3" fill="#000"/>
<rect x="261" y="804" width="1" height="3" fill="#000"/>
<rect x="325" y="804" width="1" height="3" fill="#000"/>
<rect x="389" y="804" width="1" height="3" fill="#000"/>
<rect x="453" y="804" width="1" height="3" fill="#000"/>
<rect x="517" y="804" width="1" height="3" fill="#000"/>
<rect x="581" y="804" width="1" height="3" fill="#000"/>
<rect x="645" y="804" width="1" height="3" fill="#000"/>
<rect x="709" y="804" width="1" height="3" fill="#000"/>
<rect x="773" y="804" width="1" height="3" fill="#000"/>
<rect x="837" y="804" width="1" height="3" fill="#000"/>
<rect x="901" y="804" width="1" height="3" fill="#000"/>
<rect x="965" y="804" width="1" height="3" fill="#000"/>
<rect x="1029" y="804" width="1" height="3" fill="#000"/>
<rect x="1093" y="804" width="1" height="3" fill="#000"/>
<rect x="1157" y="804" width="1" height="3" fill="#000"/>
<rect x="1221" y="804" width="1" height="3" fill="#000"/>
<rect x="1285" y="804" width="1" height="3" fill="#000"/>
</g>
<text x="3.7" y="816" font-size="10.17" fill="#000" stroke="#000" stroke-width="0.2" textLength="55.8" lengthAdjust="spacingAndGlyphs">30 May 2023</text>
<text x="67.7" y="816" font-size="10.17" fill="#000" stroke="#000" stroke-width="0.2" textLength="58.4" lengthAdjust="spacingAndGlyphs">31 May 12:00</text>
<text x="131.7" y="816" font-size="10.17" fill="#000" stroke="#000" stroke-width="0.2" textLength="48.4" lengthAdjust="spacingAndGlyphs">1 Jun 04:00</text>
<text x="195.7" y="816" font-size="10.17" fill="#000" stroke="#000" stroke-width="0.2" textLength="48.4" lengthAdjust="spacingAndGlyphs">1 Jun 20:00</text>
<text x="259.7" y="816" font-size="10.17" fill="#000" stroke="#000" stroke-width="0.2" textLength="48.4" lengthAdjust="spacingAndGlyphs">2 Jun 12:00</text>
<text x="323.7" y="816" font-size="10.17" fill="#000" stroke="#000" stroke-width="0.2" textLength="48.4" lengthAdjust="spacingAndGlyphs">5 Jun 04:00</text>
<text x="387.7" y="816" font-size="10.17" fill="#000" stroke="#000" stroke-width="0.2" textLength="48.4" lengthAdjust="spacingAndGlyphs">5 Jun 20:00</text>
<text x="451.7" y="816" font-size="10.17" fill="#000" stroke="#000" stroke-width="0.2" textLength="48.4" lengthAdjust="spacingAndGlyphs">6 Jun 12:00</text>
<text x="515.7" y="816" font-size="10.17" fill="#000" stroke="#000" stroke-width="0.2" textLength="48.4" lengthAdjust="spacingAndGlyphs">7 Jun 04:00</text>
<text x="579.7" y="816" font-size="10.17" fill="#000" stroke="#000" stroke-width="0.2" textLength="48.4" lengthAdjust="spacingAndGlyphs">7 Jun 20:00</text>
<text x="643.7" y="816" font-size="10.17" fill="#000" stroke="#000" stroke-width="0.2" textLength="48.4" lengthAdjust="spacingAndGlyphs">8 Jun 12:00</text>
<text x="707.7" y="816" font-size="10.17" fill="#000" stroke="#000" stroke-width="0.2" textLength="48.4" lengthAdjust="spacingAndGlyphs">9 Jun 04:00</text>
<text x="771.7" y="816" font-size="10.17" fill="#000" stroke="#000" stroke-width="0.2" textLength="48.4" lengthAdjust="spacingAndGlyphs">9 Jun 20:00</text>
<text x="835.7" y="816" font-size="10.17" fill="#000" stroke="#000" stroke-width="0.2" textLength="53.6" lengthAdjust="spacingAndGlyphs">12 Jun 12:00</text>
<text x="899.7" y="816" font-size="10.17" fill="#000" stroke="#000" stroke-width="0.2" textLength="53.6" lengthAdjust="spacingAndGlyphs">13 Jun 04:00</text>
<text x="963.7" y="816" font-size="10.17" fill="#000" stroke="#000" stroke-width="0.2" textLength="53.6" lengthAdjust="spacingAndGlyphs">13 Jun 20:00</text>
<text x="1027.7" y="816" font-size="10.17" fill="#000" stroke="#000" stroke-width="0.2" textLength="53.6" lengthAdjust="spacingAndGlyphs">14 Jun 12:00</text>
<text x="1091.7" y="816" font-size="10.17" fill="#000" stroke="#000" stroke-width="0.2" textLength="53.6" lengthAdjust="spacingAndGlyphs">15 Jun 04:00</text>
<text x="1155.7" y="816" font-size="10.17" fill="#000" stroke="#000" stroke-width="0.2" textLength="53.6" lengthAdjust="spacingAndGlyphs">15 Jun 20:00</text>
<text x="1219.7" y="816" font-size="10.17" fill="#000" stroke="#000" stroke-width="0.2" textLength="53.6" lengthAdjust="spacingAndGlyphs">16 Jun 12:00</text>
<text x="1283.7" y="816" font-size="10.17" fill="#000" stroke="#000" stroke-width="0.2" textLength="53.6" lengthAdjust="spacingAndGlyphs">19 Jun 04:00</text>
<g id="toolbar">
<clipPath id="tbclip"><rect x="0" y="0" width="1655" height="19"/></clipPath>
<g clip-path="url(#tbclip)">
<text x="-3.6" y="10.9" font-size="12.3" fill="#000" font-family='"Liberation Sans", "Noto Sans CJK SC", sans-serif'>新订单</text>
<text x="150" y="10.9" font-size="11.8" fill="#000" font-family='"Liberation Sans", "Noto Sans CJK SC", sans-serif'>自动交易</text>
<defs><linearGradient id="gBook" x1="0" y1="0" x2="0.3" y2="1"><stop offset="0" stop-color="#f9e04a"/><stop offset=".55" stop-color="#e3ad1c"/><stop offset="1" stop-color="#b87a0c"/></linearGradient><linearGradient id="gCloud" x1="0" y1="0" x2="0" y2="1"><stop offset="0" stop-color="#ffffff"/><stop offset="1" stop-color="#b9c6de"/></linearGradient><linearGradient id="gSrv" x1="0" y1="0" x2="1" y2="0"><stop offset="0" stop-color="#9fd2fa"/><stop offset=".35" stop-color="#2f8fea"/><stop offset="1" stop-color="#1668d0"/></linearGradient><radialGradient id="gSig" gradientUnits="userSpaceOnUse" cx="109.1" cy="7.3" r="8.3"><stop offset="0" stop-color="#e4f2e4"/><stop offset=".6" stop-color="#a9d4ab"/><stop offset="1" stop-color="#4aa84e"/></radialGradient><linearGradient id="gFun" x1="0" y1="0" x2="1" y2="1"><stop offset="0" stop-color="#fff6a8"/><stop offset="1" stop-color="#e8a818"/></linearGradient><radialGradient id="gBadge" cx=".5" cy=".2" r=".9"><stop offset="0" stop-color="#ee5a38"/><stop offset="1" stop-color="#d42414"/></radialGradient></defs>
<g><path d="M50.4 1 L60.3 7 L52.8 15.8 L44.9 9.8 Z" fill="#a86c10"/><path d="M50.6 1.6 L59.4 6.9 L53.4 13 L46.4 8.2 Z" fill="url(#gBook)"/><path d="M45.6 9.6 L52.7 15 L53.6 13.4 L46.6 8.4 Z" fill="#d9a326"/><path d="M53.2 15 L59.8 7.4 L59.3 6.8 L53.5 13.2 Z" fill="#f4e4b0"/><path d="M46 9.2 L53 14.3" stroke="#f6dc7a" stroke-width=".7" fill="none"/></g>
<g><path d="M75.5 0 h10.3 v10 h-10.3 z" fill="url(#gSrv)"/><path d="M75.5 0 h3 v10 h-3 z" fill="#bfe2fb" opacity=".7"/><rect x="80" y="3.2" width="4.6" height="1.4" fill="#eaf4ff"/><rect x="80" y="6" width="4.6" height="1.3" fill="#eaf4ff"/><path d="M76 15.6 a3 3 0 0 1 -.4 -5.9 a3.6 3.6 0 0 1 6.8 -1.1 a3 3 0 0 1 4.6 1.9 a2.6 2.6 0 0 1 -.2 5.1 Z" fill="url(#gCloud)" stroke="#5470a8" stroke-width=".9"/></g>
<g fill="none"><path d="M109.1 7.3 L109.1 15.6 A8.3 8.3 0 0 0 117.1 5 Z" fill="url(#gSig)" opacity=".85"/><path d="M109.1 7.3 m0 -7.6 a7.6 7.6 0 1 0 0 15.2" stroke="#9db8ea" stroke-width=".9"/><path d="M109.1 7.3 m0 -5.4 a5.4 5.4 0 1 0 0 10.8" stroke="#6a95e0" stroke-width=".9"/><path d="M109.1 7.3 m0 -3.2 a3.2 3.2 0 1 0 0 6.4" stroke="#3f74d6" stroke-width=".9"/><path d="M109.1 -0.3 a7.6 7.6 0 0 1 7.6 7.6" stroke="#b9d3c4" stroke-width="1.1"/><path d="M109.1 2.1 a5.2 5.2 0 0 1 5.2 5.2" stroke="#a6c9b4" stroke-width="1.1"/><circle cx="109.1" cy="7.3" r="1.5" fill="#2456c8"/><path d="M109.6 8 V15.8" stroke="#22a52a" stroke-width="1.5"/></g>
<g><path d="M128.6 6.2 L143.6 6.2 L139.6 12 L136 15.8 L132.4 12 Z" fill="url(#gFun)" stroke="#d4a020" stroke-width=".6"/><ellipse cx="136" cy="4.2" rx="8" ry="2.5" fill="#58a4e0" stroke="#2f78c4" stroke-width=".7"/><path d="M131.8 3.6 C132 -1.5 140 -1.5 140.2 3.6 C138 4.8 134 4.8 131.8 3.6Z" fill="#8fc4ee" stroke="#2f78c4" stroke-width=".6"/><circle cx="140.4" cy="11.6" r="4" fill="#e0200c"/><circle cx="140.4" cy="11.6" r="4" fill="none" stroke="#b01808" stroke-width=".6"/><rect x="138.9" y="10.1" width="3" height="3" fill="#fff"/></g>
<rect x="204" y="0" width="1" height="20" fill="#a0a0a0" shape-rendering="crispEdges"/>
<rect x="205" y="0" width="1" height="19" fill="#fafafa" shape-rendering="crispEdges"/>
<g shape-rendering="crispEdges">
<rect x="208" y="0" width="3" height="1" fill="#b4b4b4"/>
<rect x="208" y="2" width="3" height="1" fill="#b4b4b4"/>
<rect x="208" y="4" width="3" height="1" fill="#b4b4b4"/>
<rect x="208" y="6" width="3" height="1" fill="#b4b4b4"/>
<rect x="208" y="8" width="3" height="1" fill="#b4b4b4"/>
<rect x="208" y="10" width="3" height="1" fill="#b4b4b4"/>
<rect x="208" y="12" width="3" height="1" fill="#b4b4b4"/>
<rect x="208" y="14" width="3" height="1" fill="#b4b4b4"/>
<rect x="208" y="16" width="3" height="1" fill="#b4b4b4"/>
</g>
<g fill="#505050" shape-rendering="crispEdges"><rect x="222" y="2" width="1" height="14"/><rect x="220" y="13" width="14" height="1"/></g><path d="M222.5 1.6 L224.2 4.6 L220.8 4.6 Z M234.2 13.5 L231.2 11.8 L231.2 15.2 Z" fill="#505050"/>
<path d="M228.5 3 V12 M228.5 4.4 H231 M226 10.6 H228.5" stroke="#118a1c" stroke-width="1.2" fill="none"/>
<rect x="242" y="0" width="1" height="17" fill="#a0a0a0" shape-rendering="crispEdges"/>
<rect x="243" y="0" width="24" height="18" fill="#f8f8f8" shape-rendering="crispEdges"/>
<g fill="#505050" shape-rendering="crispEdges"><rect x="250" y="2" width="1" height="14"/><rect x="248" y="13" width="14" height="1"/></g><path d="M250.5 1.6 L252.2 4.6 L248.8 4.6 Z M262.2 13.5 L259.2 11.8 L259.2 15.2 Z" fill="#505050"/>
<path d="M256.5 0 V12" stroke="#0b8a16" stroke-width="1.1"/><rect x="254.5" y="2.5" width="4" height="7" fill="#3fe45a" stroke="#0b8a16" stroke-width="1.1"/>
<g fill="#505050" shape-rendering="crispEdges"><rect x="278" y="2" width="1" height="14"/><rect x="276" y="13" width="14" height="1"/></g><path d="M278.5 1.6 L280.2 4.6 L276.8 4.6 Z M290.2 13.5 L287.2 11.8 L287.2 15.2 Z" fill="#505050"/>
<path d="M277 11 C280 8.5 281.5 5.4 283.6 5.4 C285.6 5.4 286.8 8.6 289 9.4" stroke="#2c9a38" stroke-width="1.1" fill="none"/>
<rect x="299" y="0" width="1" height="17" fill="#a0a0a0" shape-rendering="crispEdges"/>
<path d="M317.6 9.6 L322.6 14.4" stroke="#9a7212" stroke-width="3.4" stroke-linecap="round"/>
<path d="M317.8 9.8 L322.6 14.4" stroke="#e8c63a" stroke-width="2" stroke-linecap="round"/>
<circle cx="314.0" cy="5.9" r="5.6" fill="#d6f0fc" stroke="#2a6fc4" stroke-width="1.1"/>
<path d="M310.3 5.9 H317.7" stroke="#3a86b8" stroke-width="1.9"/>
<path d="M314.0 2.2 V9.6" stroke="#3a86b8" stroke-width="1.9"/>
<path d="M345.70000000000005 9.6 L350.70000000000005 14.4" stroke="#9a7212" stroke-width="3.4" stroke-linecap="round"/>
<path d="M345.90000000000003 9.8 L350.70000000000005 14.4" stroke="#e8c63a" stroke-width="2" stroke-linecap="round"/>
<circle cx="342.1" cy="5.9" r="5.6" fill="#d6f0fc" stroke="#2a6fc4" stroke-width="1.1"/>
<path d="M338.40000000000003 5.9 H345.8" stroke="#3a86b8" stroke-width="1.9"/>
<g shape-rendering="crispEdges"><rect x="364" y="0" width="8" height="8" fill="#3c9a28"/><rect x="372" y="0" width="8" height="8" fill="#2a5bd0"/><rect x="364" y="8" width="8" height="8" fill="#2a5bd0"/><rect x="372" y="8" width="8" height="8" fill="#3c9a28"/><rect x="365.5" y="3" width="5" height="3.5" fill="#e8f4e0"/><rect x="373.5" y="3" width="5" height="3.5" fill="#e0e8fa"/><rect x="365.5" y="11" width="5" height="3.5" fill="#e0e8fa"/><rect x="373.5" y="11" width="5" height="3.5" fill="#e8f4e0"/></g>
<rect x="389" y="0" width="1" height="17" fill="#a0a0a0" shape-rendering="crispEdges"/>
<rect x="394" y="0" width="1" height="17" fill="#a0a0a0" shape-rendering="crispEdges"/>
<rect x="395" y="0" width="25" height="18" fill="#f8f8f8" shape-rendering="crispEdges"/>
<g fill="#505050" shape-rendering="crispEdges"><rect x="402" y="2" width="1" height="14"/><rect x="400" y="13" width="14" height="1"/></g><path d="M402.5 1.6 L404.2 4.6 L400.8 4.6 Z M414.2 13.5 L411.2 11.8 L411.2 15.2 Z" fill="#505050"/>
<path d="M407 4.5 L411 7.5 L407 10.5 Z" fill="#7ee07e" stroke="#1f9f2f" stroke-width="1"/>
<rect x="422" y="0" width="1" height="17" fill="#a0a0a0" shape-rendering="crispEdges"/>
<rect x="423" y="0" width="24" height="18" fill="#f8f8f8" shape-rendering="crispEdges"/>
<g fill="#505050" shape-rendering="crispEdges"><rect x="430" y="2" width="1" height="14"/><rect x="428" y="13" width="14" height="1"/></g><path d="M430.5 1.6 L432.2 4.6 L428.8 4.6 Z M442.2 13.5 L439.2 11.8 L439.2 15.2 Z" fill="#505050"/>
<path d="M436.5 2 V12" stroke="#2a6fd0" stroke-width="1.2"/><path d="M442 7.5 H438 M440 5.5 L438 7.5 L440 9.5" stroke="#d03010" stroke-width="1.2" fill="none"/>
<rect x="451" y="0" width="1" height="17" fill="#a0a0a0" shape-rendering="crispEdges"/>
<path d="M461.5 1 h7 l3 3 v9 h-10 z" fill="#fafafa" stroke="#8a8a8a" stroke-width="1"/><path d="M465 4.5 c-1.5 0 -1.5 2 -1.5 3 M463 7 h3" stroke="#6a5a2a" stroke-width=".9" fill="none"/><path d="M469.5 7.5 h3.4 v3.6 h3.6 v3.4 h-3.6 v3.6 h-3.4 v-3.6 h-3.6 v-3.4 h3.6 z" fill="#2fd02f" stroke="#169016" stroke-width=".9"/>
<path d="M482.5 7 h6 l-3 3.2 z" fill="#000"/>
<defs><linearGradient id="gClk" x1="0" y1="0" x2="0" y2="1"><stop offset="0" stop-color="#3f9cf2"/><stop offset="1" stop-color="#0a49a8"/></linearGradient></defs><circle cx="507.1" cy="7.7" r="6.7" fill="#fbfdff" stroke="url(#gClk)" stroke-width="2.8"/><path d="M506.6 3.8 V7.8 L509.6 8.4" stroke="#202020" stroke-width="1.1" fill="none"/><path d="M507 10.4 h1" stroke="#6aa8f0" stroke-width=".8"/>
<path d="M522 7 h6 l-3 3.2 z" fill="#000"/>
<rect x="538.5" y="1.5" width="15" height="13" fill="#fff" stroke="#3a78d8" stroke-width="1.2"/><rect x="538" y="1" width="16" height="2.2" fill="#3a78d8"/><path d="M538.5 8.5 H553.5" stroke="#8ab0e8" stroke-width="1"/><path d="M540 7 l3 -1 l3 .5 l3 -1.5 l3 0" stroke="#9a1c08" stroke-width="1.4" fill="none"/><path d="M540 12.5 l3 -1 l2.5 .8 l3 -2 l3 1.8" stroke="#109020" stroke-width="1.4" fill="none"/>
<path d="M561 7 h6 l-3 3.2 z" fill="#000"/>
<rect x="572" y="0" width="1" height="20" fill="#909090" shape-rendering="crispEdges"/><rect x="573" y="0" width="1" height="19" fill="#fafafa" shape-rendering="crispEdges"/>
<g shape-rendering="crispEdges">
<rect x="576" y="0" width="3" height="1" fill="#b4b4b4"/>
<rect x="576" y="2" width="3" height="1" fill="#b4b4b4"/>
<rect x="576" y="4" width="3" height="1" fill="#b4b4b4"/>
<rect x="576" y="6" width="3" height="1" fill="#b4b4b4"/>
<rect x="576" y="8" width="3" height="1" fill="#b4b4b4"/>
<rect x="576" y="10" width="3" height="1" fill="#b4b4b4"/>
<rect x="576" y="12" width="3" height="1" fill="#b4b4b4"/>
<rect x="576" y="14" width="3" height="1" fill="#b4b4b4"/>
<rect x="576" y="16" width="3" height="1" fill="#b4b4b4"/>
</g>
<rect x="582" y="0" width="1" height="17" fill="#a0a0a0" shape-rendering="crispEdges"/>
<rect x="583" y="0" width="24" height="18" fill="#f8f8f8" shape-rendering="crispEdges"/>
<path d="M590 0.8 V12.3 L592.7 9.9 L595.1 15.1 L597.1 14.2 L594.8 9.1 L598.3 8.9 Z" fill="#4a4a4a"/>
<g stroke="#505050" stroke-width="1" shape-rendering="crispEdges"><path d="M622.5 1 V16 M615 8.5 H630"/></g><rect x="622" y="8" width="1" height="1" fill="#f0f0f0"/>
<rect x="639" y="0" width="1" height="17" fill="#a0a0a0" shape-rendering="crispEdges"/>
<g stroke="#505050" stroke-width="1" shape-rendering="crispEdges"><path d="M656.5 2 V15 M679 8.5 H691"/></g>
<path d="M706.6 14.9 L719.4 2.7" stroke="#505050" stroke-width="1"/>
<g stroke="#454545" stroke-width="1" fill="none"><path d="M732.6 9.9 L741 2.1 M737.5 15 L747.2 6.2"/><path d="M734.2 13.4 L736 8.8 L737.6 11.4 L739.6 6.2 L741.2 9 L743.2 3.8 L744.8 6.6 L744.8 0" stroke-width="1.1"/></g>
<text x="743.6" y="16.9" font-size="7" font-weight="bold" fill="#2a2a2a" stroke="#2a2a2a" stroke-width=".2">E</text>
<g stroke="#404040" stroke-width="1" stroke-dasharray="1 1" shape-rendering="crispEdges"><path d="M762 1.5 H775 M762 4.5 H775 M762 8.5 H775 M762 12.5 H771"/></g>
<text x="771.7" y="16.9" font-size="7" font-weight="bold" fill="#2a2a2a" stroke="#2a2a2a" stroke-width=".2">F</text>
<text x="792.3" y="13" font-size="12.6" fill="#5a5a5a" stroke="#5a5a5a" stroke-width=".25">A</text>
<rect x="819" y="2.5" width="12" height="12" fill="none" stroke="#505050" stroke-width="1" stroke-dasharray="1 1" shape-rendering="crispEdges"/>
<text x="821.4" y="13" font-size="11.4" font-weight="bold" fill="#5a5a5a">T</text>
<path d="M846 6 L849.4 1.8 L852.8 6 Z M853.2 11.2 L860 11.2 L856.6 14.9 Z" fill="#484848"/><path d="M847.8 9.6 L850.6 11.8 L854.8 6.4" stroke="#484848" stroke-width="1.3" fill="none"/>
<path d="M867 7 h6 l-3 3.2 z" fill="#000"/>
<rect x="878" y="0" width="1" height="20" fill="#909090" shape-rendering="crispEdges"/><rect x="879" y="0" width="1" height="19" fill="#fafafa" shape-rendering="crispEdges"/>
<g shape-rendering="crispEdges">
<rect x="882" y="0" width="3" height="1" fill="#b4b4b4"/>
<rect x="882" y="2" width="3" height="1" fill="#b4b4b4"/>
<rect x="882" y="4" width="3" height="1" fill="#b4b4b4"/>
<rect x="882" y="6" width="3" height="1" fill="#b4b4b4"/>
<rect x="882" y="8" width="3" height="1" fill="#b4b4b4"/>
<rect x="882" y="10" width="3" height="1" fill="#b4b4b4"/>
<rect x="882" y="12" width="3" height="1" fill="#b4b4b4"/>
<rect x="882" y="14" width="3" height="1" fill="#b4b4b4"/>
<rect x="882" y="16" width="3" height="1" fill="#b4b4b4"/>
</g>
<text x="893.4" y="11.9" font-size="10" fill="#444444" textLength="13" lengthAdjust="spacingAndGlyphs">M1</text>
<text x="921.6" y="11.9" font-size="10" fill="#444444" textLength="13" lengthAdjust="spacingAndGlyphs">M5</text>
<text x="947.4" y="11.9" font-size="10" fill="#444444" textLength="18" lengthAdjust="spacingAndGlyphs">M15</text>
<text x="975.5" y="11.9" font-size="10" fill="#444444" textLength="18.2" lengthAdjust="spacingAndGlyphs">M30</text>
<text x="1006.4" y="11.9" font-size="10" fill="#444444" textLength="12.2" lengthAdjust="spacingAndGlyphs">H1</text>
<rect x="1028" y="0" width="1" height="17" fill="#a0a0a0" shape-rendering="crispEdges"/>
<rect x="1029" y="0" width="24" height="18" fill="#f8f8f8" shape-rendering="crispEdges"/>
<text x="1033.4" y="11.9" font-size="10" fill="#444444" textLength="12.8" lengthAdjust="spacingAndGlyphs">H4</text>
<text x="1062.4" y="11.9" font-size="10" fill="#444444" textLength="12.2" lengthAdjust="spacingAndGlyphs">D1</text>
<text x="1089.8" y="11.9" font-size="10" fill="#444444" textLength="15" lengthAdjust="spacingAndGlyphs">W1</text>
<text x="1116.4" y="11.9" font-size="10" fill="#444444" textLength="15.4" lengthAdjust="spacingAndGlyphs">MN</text>
<rect x="1139" y="0" width="1" height="19" fill="#a0a0a0" shape-rendering="crispEdges"/>
<path d="M1606.3 8.8 L1602 13" stroke="#2456c8" stroke-width="2.2" stroke-linecap="round"/><circle cx="1609.6" cy="5.4" r="3.7" fill="#f2f2f4" stroke="#2a62d4" stroke-width="1.2"/>
<defs><linearGradient id="gBub" x1="0" y1="0" x2="0" y2="1"><stop offset="0" stop-color="#f2f3f6"/><stop offset="1" stop-color="#c2c6d0"/></linearGradient></defs><path d="M1626.4 10.3 a5.3 4.7 0 1 1 5.6 4.7 l-2.7 1.7 l.5 -2 a5 4.5 0 0 1 -3.4 -4.4z" fill="url(#gBub)" stroke="#a4a8b2" stroke-width=".8"/>
<circle cx="1640.6" cy="5.8" r="8.4" fill="url(#gBadge)"/>
<text x="1636.6" y="9.8" font-size="11.5" fill="#fff">1</text>
</g></g>
</svg>
</body></html>
